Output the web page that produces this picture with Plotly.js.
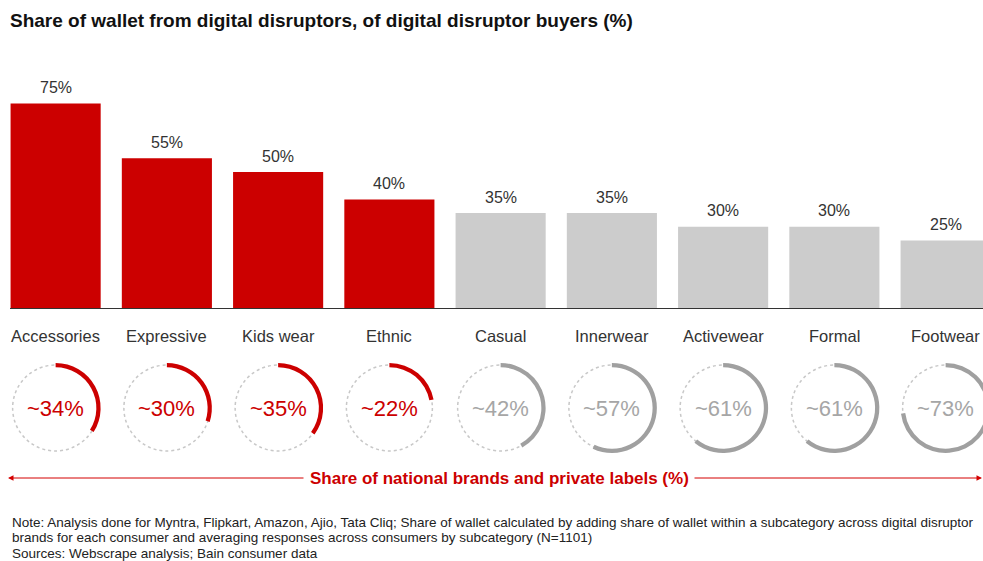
<!DOCTYPE html>
<html>
<head>
<meta charset="utf-8">
<script src="https://cdn.plot.ly/plotly-3.0.1.min.js"></script>
<style>html,body{margin:0;padding:0;background:#fff;overflow:hidden;}#chart{width:1002px;height:561px;}</style>
</head>
<body>
<div id="chart"></div>
<script>
// ---- data ----
var categories = ['Accessories','Expressive','Kids wear','Ethnic','Casual','Innerwear','Activewear','Formal','Footwear'];
var walletShare = [75, 55, 50, 40, 35, 35, 30, 30, 25];          // share of wallet from digital disruptors (%)
var brandShare = [34, 30, 35, 22, 42, 57, 61, 61, 73];           // share of national brands and private labels (%)
var highlighted = [true, true, true, true, false, false, false, false, false];
var titleText = 'Share of wallet from digital disruptors, of digital disruptor buyers (%)';
var arrowText = 'Share of national brands and private labels (%)';
var noteLines = [
  'Note: Analysis done for Myntra, Flipkart, Amazon, Ajio, Tata Cliq; Share of wallet calculated by adding share of wallet within a subcategory across digital disruptor',
  'brands for each consumer and averaging responses across consumers by subcategory (N=1101)',
  'Sources: Webscrape analysis; Bain consumer data'
];

// ---- style ----
var VIEW_W = 983;           // visible window width
var W = 1002, H = 561;      // figure slightly wider than the window: last column is cut off as in the original
var RED = '#cc0000', BAR_GREY = '#cccccc', ARC_GREY = '#a0a0a0', TXT_GREY = '#a6a6a6';
var FONT = 'Liberation Sans, Arial, Helvetica, sans-serif';
var catStep = 111.25;
var xRange = [-0.5, -0.5 + W / catStep];
var yTopPx = 60, yBasePx = 309;
function py(p) { return 1 - p / H; }
function pxOfCat(i) { return (i - xRange[0]) / (xRange[1] - xRange[0]) * W; }

var barColors = highlighted.map(function (h) { return h ? RED : BAR_GREY; });
var ringColors = highlighted.map(function (h) { return h ? RED : ARC_GREY; });
var ringText = highlighted.map(function (h) { return h ? RED : TXT_GREY; });

var traces = [{
  type: 'bar', x: categories.map(function (c, i) { return i; }), y: walletShare,
  marker: { color: barColors }, hoverinfo: 'skip', showlegend: false
}];

var annotations = [], shapes = [];
var ringCy = 408, ringR = 45, dotR = 43;

categories.forEach(function (c, i) {
  annotations.push({ xref: 'x', yref: 'y', x: i, y: walletShare[i], yshift: 16, xanchor: 'center', yanchor: 'middle',
    text: walletShare[i] + '%', showarrow: false, font: { family: FONT, size: 16, color: '#333333' } });
  annotations.push({ xref: 'x', yref: 'paper', x: i, y: py(336), xanchor: 'center', yanchor: 'middle',
    text: c, showarrow: false, font: { family: FONT, size: 16.5, color: '#333333' } });
  var cx = pxOfCat(i);
  traces.push({
    type: 'pie', values: [brandShare[i], 100 - brandShare[i]], sort: false, direction: 'clockwise', rotation: 0,
    hole: 0.905, textinfo: 'none', hoverinfo: 'skip', showlegend: false,
    marker: { colors: [ringColors[i], 'rgba(0,0,0,0)'], line: { width: 0 } },
    domain: { x: [(cx - ringR) / W, (cx + ringR) / W], y: [py(ringCy + ringR), py(ringCy - ringR)] }
  });
  shapes.push({ type: 'circle', xref: 'paper', yref: 'paper', layer: 'below',
    x0: (cx - dotR) / W, x1: (cx + dotR) / W, y0: py(ringCy + dotR), y1: py(ringCy - dotR),
    line: { color: '#c8c8c8', width: 1.5, dash: 'dot' } });
  annotations.push({ xref: 'paper', yref: 'paper', x: cx / W, y: py(ringCy), xanchor: 'center', yanchor: 'middle',
    text: '~' + brandShare[i] + '%', showarrow: false, font: { family: FONT, size: 22, color: ringText[i] } });
});

// baseline
shapes.push({ type: 'line', xref: 'x', yref: 'y', x0: -0.41, x1: xRange[1], y0: 0, y1: 0,
  line: { color: '#333333', width: 2 } });

// arrow
var arrowY = py(478);
annotations.push({ xref: 'paper', yref: 'paper', x: 8 / W, y: arrowY, ax: 297, ay: 0, text: '',
  showarrow: true, arrowhead: 2, arrowsize: 1.1, arrowwidth: 1, arrowcolor: '#d40000' });
annotations.push({ xref: 'paper', yref: 'paper', x: (VIEW_W - 1) / W, y: arrowY, ax: -(VIEW_W - 1 - 693), ay: 0, text: '',
  showarrow: true, arrowhead: 2, arrowsize: 1.1, arrowwidth: 1, arrowcolor: '#d40000' });
annotations.push({ xref: 'paper', yref: 'paper', x: 499 / W, y: arrowY, xanchor: 'center', yanchor: 'middle',
  text: '<b>' + arrowText + '</b>', showarrow: false, font: { family: FONT, size: 17, color: RED } });

// notes
var noteY = [522, 537.5, 553];
noteLines.forEach(function (t, k) {
  annotations.push({ xref: 'paper', yref: 'paper', x: 10 / W, y: py(noteY[k]), xanchor: 'left', yanchor: 'middle',
    text: t, showarrow: false, font: { family: FONT, size: 13.5, color: '#222222' } });
});

var layout = {
  width: W, height: H, margin: { l: 0, r: 0, t: 0, b: 0 },
  paper_bgcolor: '#ffffff', plot_bgcolor: '#ffffff',
  title: { text: '<b>' + titleText + '</b>', x: 10 / W, xanchor: 'left', y: py(20), yanchor: 'middle',
    font: { family: FONT, size: 19, color: '#111111' } },
  bargap: 0.19,
  xaxis: { range: xRange, showticklabels: false, showgrid: false, zeroline: false, showline: false, fixedrange: true },
  yaxis: { range: [0, (yBasePx - yTopPx) / 2.74], domain: [py(yBasePx), py(yTopPx)],
    showticklabels: false, showgrid: false, zeroline: false, showline: false, fixedrange: true },
  annotations: annotations, shapes: shapes, showlegend: false
};

Plotly.newPlot('chart', traces, layout, { staticPlot: true, displayModeBar: false });
</script>
</body>
</html>
